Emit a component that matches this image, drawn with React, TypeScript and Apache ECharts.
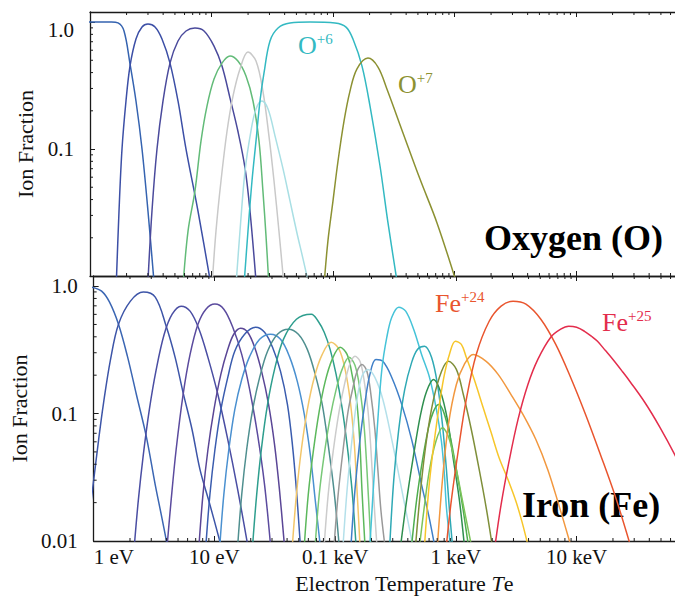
import React, { useEffect, useRef } from 'react';
import * as echarts from 'echarts';

const FONT = '"Liberation Serif", "Times New Roman", serif';
const X_MIN = 1;
const X_MAX = 65300;
const Y_MIN = 0.01;
const Y_MAX = 1.2;

const xTickLabels = ['1 eV', '10 eV', '0.1 keV', '1 keV', '10 keV'];
const yTickLabels = ['0.01', '0.1', '1.0'];
const xMinorTicks = [2,3,4,5,6,7,8,9,20,30,40,50,60,70,80,90,200,300,400,500,600,700,800,900,2000,3000,4000,5000,6000,7000,8000,9000,20000,30000,40000,50000,60000];
const yMinorTicks = [0.02,0.03,0.04,0.05,0.06,0.07,0.08,0.09,0.2,0.3,0.4,0.5,0.6,0.7,0.8,0.9];

// Oxygen ion fractions [Te (eV), fraction]
const O0 = [[0.91,1.0],[1.5,1.0],[1.70,0.985],[1.905,0.85],[2.13,0.475],[2.39,0.239],[2.68,0.1],[3.0,0.0325],[3.36,0.0091]];
const O1 = [[1.637,0.0076],[1.733,0.0325],[1.834,0.1],[1.978,0.239],[2.134,0.45],[2.39,0.735],[2.68,0.913],[3.0,0.964],[3.43,0.913],[3.913,0.735],[4.554,0.475],[5.30,0.239],[6.17,0.1],[7.74,0.0325],[10.1,0.0076]];
const O2 = [[3.0,0.0091],[3.237,0.0325],[3.56,0.1],[3.99,0.239],[4.554,0.475],[5.30,0.709],[6.17,0.85],[7.31,0.897],[8.68,0.85],[10.49,0.647],[12.2,0.45],[14.2,0.252],[16.5,0.138],[18.87,0.071],[20.74,0.0325],[23.25,0.0091]];
const O3 = [[5.83,0.0084],[6.41,0.0226],[7.31,0.0468],[8.20,0.116],[9.18,0.218],[10.49,0.356],[12.2,0.475],[14.2,0.54],[16.5,0.493],[19.23,0.376],[21.96,0.239],[24.6,0.116],[26.5,0.0468],[28.1,0.0206],[29.7,0.0084]];
const O4 = [[10.1,0.0084],[10.89,0.0226],[11.97,0.056],[13.42,0.138],[15.03,0.261],[17.16,0.427],[19.97,0.58],[23.25,0.493],[26.5,0.286],[29.7,0.127],[32.7,0.056],[35.9,0.0226],[39.5,0.0084]];
const O5 = [[15.9,0.0084],[17.16,0.0226],[18.87,0.067],[21.1,0.138],[23.25,0.207],[26.0,0.239],[29.2,0.207],[33.31,0.127],[38.8,0.0697],[44.27,0.039],[50.5,0.0218],[56.6,0.0137],[63.5,0.0084]];
const O6 = [[18.5,0.0084],[19.97,0.0226],[21.54,0.056],[23.25,0.116],[25.07,0.239],[27.05,0.397],[30.3,0.709],[35.3,0.897],[44.27,0.982],[64.7,1.0],[103.9,0.982],[128,0.913],[146,0.735],[173.3,0.45],[201.7,0.218],[243.8,0.0735],[283.6,0.0262],[336.3,0.0091]];
const O7 = [[84.3,0.0084],[90.9,0.019],[100,0.039],[110,0.0805],[123.2,0.166],[138,0.286],[157.6,0.427],[194.1,0.52],[234.6,0.442],[278.3,0.296],[376.8,0.134],[520,0.058],[717.8,0.0262],[1029,0.0091]];

const oxygenCurves = [O0, O1, O2, O3, O4, O5, O6, O7];
const oxygenColors = ['#3563b0', '#3c4fa6', '#4a4a9c', '#62bb78', '#c9c9c9', '#a9dfe4', '#33b9c2', '#8c9132'];

// Iron ion fractions [Te (eV), fraction]
const Fe0 = [[0.963,0.982],[1.164,0.913],[1.354,0.748],[1.606,0.502],[1.905,0.281],[2.259,0.141],[2.731,0.066],[3.237,0.0276],[3.63,0.0161],[4.143,0.0085]];
const Fe1 = [[0.95,0.02],[1.1,0.0625],[1.209,0.122],[1.38,0.266],[1.606,0.502],[2.017,0.762],[2.579,0.897],[3.237,0.819],[3.99,0.484],[4.73,0.276],[5.505,0.146],[6.53,0.075],[7.60,0.0363],[9.18,0.0193],[11.31,0.0093]];
const Fe2 = [[2.175,0.0093],[2.346,0.021],[2.579,0.0476],[2.89,0.107],[3.30,0.222],[3.84,0.419],[4.47,0.602],[5.30,0.696],[6.29,0.636],[7.46,0.459],[8.84,0.276],[10.69,0.141],[12.91,0.0625],[15.61,0.0252],[18.87,0.0093]];
const Fe3 = [[4.065,0.0093],[4.385,0.021],[4.82,0.052],[5.505,0.141],[6.29,0.291],[7.31,0.502],[8.51,0.659],[10.1,0.722],[11.97,0.659],[14.2,0.475],[16.84,0.291],[19.6,0.154],[22.8,0.0684],[26.04,0.0276],[29.17,0.0093]];
const Fe4 = [[7.46,0.0093],[8.04,0.0231],[8.84,0.052],[9.91,0.107],[11.31,0.203],[12.91,0.319],[14.47,0.419],[16.5,0.467],[18.87,0.434],[21.54,0.331],[24.6,0.214],[28.1,0.118],[31.5,0.0571],[34.6,0.0252],[38.0,0.0093]];
const Fe5 = [[8.51,0.0093],[9.18,0.0231],[10.1,0.052],[11.31,0.107],[12.91,0.192],[14.74,0.308],[17.8,0.419],[21.96,0.475],[26.04,0.434],[30.3,0.331],[35.3,0.214],[40.26,0.118],[44.27,0.0571],[47.8,0.0252],[51.5,0.0093]];
const Fe6 = [[11.1,0.0093],[11.97,0.0231],[13.16,0.052],[14.74,0.107],[16.84,0.185],[19.6,0.281],[23.7,0.382],[29.17,0.419],[35.3,0.382],[41.8,0.281],[48.66,0.178],[55.6,0.098],[62.3,0.0476],[68.4,0.021],[75.2,0.0093]];
const Fe7 = [[15.61,0.0093],[16.84,0.0231],[18.5,0.052],[20.74,0.107],[23.7,0.192],[27.56,0.308],[33.31,0.419],[41.0,0.459],[49.6,0.419],[58.82,0.319],[68.4,0.203],[78.2,0.118],[87.6,0.0571],[98.1,0.0244],[107.9,0.0093]];
const Fe8 = [[20.74,0.0093],[22.4,0.0231],[24.6,0.0543],[27.56,0.118],[31.5,0.222],[37.3,0.382],[47.8,0.55],[63.5,0.602],[72.4,0.53],[81.2,0.434],[90.9,0.319],[101.9,0.203],[114.2,0.111],[125.6,0.0571],[138,0.0252],[148.9,0.0093]];
const Fe9 = [[44.27,0.0093],[47.8,0.0231],[52.5,0.052],[58.82,0.107],[67.2,0.192],[78.2,0.291],[92.7,0.362],[107.9,0.319],[120.9,0.222],[132.9,0.129],[143.3,0.0625],[151.8,0.0252],[160.6,0.0093]];
const Fe10 = [[55.6,0.0093],[59.9,0.0231],[65.9,0.0502],[73.8,0.104],[82.7,0.178],[94.5,0.266],[110,0.331],[125.6,0.291],[138,0.203],[151.8,0.118],[160.6,0.0571],[166.8,0.0252],[176.6,0.0093]];
const Fe11 = [[68.4,0.0093],[73.8,0.0231],[81.2,0.0476],[90.9,0.093],[101.9,0.154],[114.2,0.222],[130.4,0.276],[146,0.239],[160.6,0.154],[173.3,0.082],[183.4,0.0363],[197.9,0.0093]];
const Fe12 = [[81.2,0.0093],[87.6,0.0231],[96.3,0.0502],[107.9,0.104],[120.9,0.178],[132.9,0.247],[146,0.281],[160.6,0.257],[173.3,0.185],[186.9,0.107],[197.9,0.052],[209.4,0.021],[221.7,0.0093]];
const Fe13 = [[98.1,0.0093],[105.9,0.0231],[116.4,0.052],[128,0.104],[140.6,0.16],[151.8,0.214],[166.8,0.243],[183.4,0.214],[197.9,0.141],[213.4,0.075],[225.9,0.0363],[239.2,0.0176],[257.9,0.0093]];
const Fe14 = [[135.4,0.0093],[146,0.0252],[160.6,0.0625],[176.6,0.122],[194.1,0.203],[217.5,0.266],[248.5,0.257],[294.6,0.192],[356.1,0.118],[430.4,0.0625],[520,0.0276],[593.8,0.0161],[665.3,0.0093]];
const Fe15 = [[116.4,0.0093],[125.6,0.0252],[138,0.0625],[151.8,0.129],[166.8,0.196],[186.9,0.222],[213.4,0.192],[248.5,0.129],[294.6,0.0625],[342.8,0.0304],[391.5,0.0161],[438.5,0.0093]];
const Fe16 = [[194.1,0.0093],[209.4,0.0302],[225.9,0.0896],[243.8,0.222],[268,0.397],[294.6,0.57],[336.3,0.683],[384.1,0.636],[446.9,0.459],[520,0.291],[605.2,0.192],[691,0.107],[759.8,0.0602],[804.1,0.033],[835.3,0.0183],[900.9,0.0093]];
const Fe17 = [[283.6,0.0093],[305.9,0.0302],[336.3,0.0747],[376.8,0.154],[430.4,0.252],[482.2,0.319],[550.6,0.337],[628.6,0.276],[704.2,0.169],[774.3,0.082],[835.3,0.0363],[884.1,0.0176],[935.9,0.0093]];
const Fe18 = [[349.3,0.0093],[391.5,0.021],[446.9,0.0476],[510.3,0.0984],[571.8,0.149],[652.8,0.185],[745.5,0.149],[851.1,0.0896],[953.7,0.0435],[1069,0.021],[1175,0.0093]];
const Fe19 = [[430.4,0.0093],[473.2,0.021],[530.2,0.0435],[593.8,0.0775],[652.8,0.104],[717.8,0.118],[789,0.104],[900.9,0.0648],[1009.5,0.0363],[1131,0.0193],[1267,0.0093]];
const Fe20 = [[501,0.0093],[550.6,0.0193],[605.2,0.0363],[678.2,0.0591],[774.3,0.0775],[867.7,0.066],[990.6,0.0398],[1131,0.021],[1342,0.0093]];
const Fe21 = [[464.2,0.0093],[510.3,0.0252],[571.8,0.0625],[652.8,0.129],[759.8,0.214],[867.7,0.257],[1009.5,0.222],[1153,0.141],[1342,0.075],[1561,0.0363],[1782,0.0183],[1997,0.0093]];
const Fe22 = [[550.6,0.0093],[593.8,0.0244],[640.6,0.0476],[691,0.082],[745.5,0.134],[804.1,0.203],[884.1,0.291],[990.6,0.369],[1110,0.349],[1220,0.276],[1420,0.185],[1684,0.111],[1960,0.0709],[2280,0.045],[2705,0.0302],[3148,0.0204],[3526,0.0142],[3951,0.0093]];
const Fe23 = [[704.2,0.0093],[774.3,0.0302],[867.7,0.082],[1009.5,0.169],[1175,0.243],[1393,0.291],[1782,0.257],[2238,0.203],[2863,0.141],[3594,0.0984],[4598,0.0625],[5772,0.0363],[7110,0.0193],[8925,0.0093]];
const Fe24 = [[835.3,0.0093],[918.4,0.021],[1049,0.052],[1220,0.129],[1475,0.291],[1887,0.53],[2369,0.696],[2974,0.762],[3804,0.722],[5055,0.55],[6717,0.349],[8925,0.192],[11860,0.0984],[15760,0.0476],[20940,0.0223],[27830,0.0093]];
const Fe25 = [[2114,0.0093],[2369,0.0193],[2756,0.0421],[3269,0.0896],[3951,0.169],[4775,0.266],[6109,0.397],[7384,0.459],[8597,0.484],[10000,0.475],[11630,0.442],[13290,0.404],[14890,0.369],[17330,0.312],[20160,0.263],[23910,0.214],[27830,0.177],[36990,0.121],[49130,0.0776],[65300,0.0472],[86760,0.0272]];

const ironCurves = [Fe0, Fe1, Fe2, Fe3, Fe4, Fe5, Fe6, Fe7, Fe8, Fe9, Fe10, Fe11, Fe12, Fe13, Fe14, Fe15, Fe16, Fe17, Fe18, Fe19, Fe20, Fe21, Fe22, Fe23, Fe24, Fe25];
const ironColors = ['#3b66b3','#3d55a8','#4a4ea3','#5b4b9e','#5a4696','#3a5cae','#4a90d0','#4f8f8f','#2e9e8e','#f2c66a','#5cb85c','#78c878','#cccccc','#999999','#3f7fc8','#b4e0ea','#45c3d8','#2fa9b5','#2f8f4f','#4fae4f','#7cc45a','#7f8f3a','#f7c62a','#f2983f','#e9552e','#e32d4c'];

const decadeIndex = (v: number) => {
  const e = Math.log10(v);
  const r = Math.round(e);
  return Math.abs(e - r) < 0.01 ? r : null;
};

const AX = '#1a1a1a';

function makeXAxis(gridIndex: number, position: 'top' | 'bottom', labels: boolean) {
  return {
    type: 'log', logBase: 10, gridIndex, position, min: X_MIN, max: X_MAX,
    axisLine: { show: true, onZero: false, lineStyle: { color: AX, width: 1.3 } },
    axisTick: { show: true, inside: true, length: 5, lineStyle: { color: AX, width: 1 } },
    splitLine: { show: false },
    axisLabel: labels ? {
      show: true, color: '#111', fontFamily: FONT, fontSize: 21, margin: 5,
      showMaxLabel: false, alignMinLabel: 'left',
      formatter: (v: number) => { const d = decadeIndex(v); return d === null ? '' : (xTickLabels[d] ?? ''); },
    } : { show: false },
    name: labels ? '{n|Electron Temperature }{i|T}{n|e}' : '',
    nameLocation: 'middle', nameGap: 31,
    nameTextStyle: labels ? {
      padding: [0, 0, 0, 40],
      rich: { n: { fontFamily: FONT, fontSize: 22, color: '#111' }, i: { fontFamily: FONT, fontSize: 22, fontStyle: 'italic', color: '#111' } },
    } : undefined,
  };
}

function makeYAxis(gridIndex: number, top: boolean) {
  return {
    type: 'log', logBase: 10, gridIndex, min: Y_MIN, max: Y_MAX,
    axisLine: { show: true, onZero: false, lineStyle: { color: AX, width: 1.3 } },
    axisTick: { show: true, inside: true, length: 5, lineStyle: { color: AX, width: 1 } },
    splitLine: { show: false },
    axisLabel: {
      show: true, color: '#111', fontFamily: FONT, fontSize: 21, margin: 16,
      showMaxLabel: false, showMinLabel: !top,
      formatter: (v: number) => {
        const d = decadeIndex(v);
        if (d === null) return '';
        const s = yTickLabels[d + 2] ?? '';
        return top && d === 0 ? '{t|' + s + '}' : s;
      },
      rich: { t: { fontFamily: FONT, fontSize: 21, color: '#111', padding: [16, 0, 0, 0] } },
    },
    name: 'Ion Fraction', nameLocation: 'middle', nameRotate: 90, nameGap: 52,
    nameTextStyle: { fontFamily: FONT, fontSize: 22, color: '#111' },
  };
}

function minorSeries(xAxisIndex: number, yAxisIndex: number) {
  const tickStyle = { stroke: AX, lineWidth: 1 };
  return [
    {
      type: 'custom', xAxisIndex, yAxisIndex, clip: false, silent: true, z: 10,
      data: xMinorTicks.map((v) => [v, Y_MIN]),
      renderItem: (_p: any, api: any) => {
        const v = api.value(0);
        const b = api.coord([v, Y_MIN]);
        const t = api.coord([v, Y_MAX]);
        return {
          type: 'group', children: [
            { type: 'line', shape: { x1: b[0], y1: b[1], x2: b[0], y2: b[1] - 3 }, style: tickStyle },
            { type: 'line', shape: { x1: t[0], y1: t[1], x2: t[0], y2: t[1] + 3 }, style: tickStyle },
          ],
        };
      },
    },
    {
      type: 'custom', xAxisIndex, yAxisIndex, clip: false, silent: true, z: 10,
      data: yMinorTicks.map((v) => [X_MIN, v]),
      renderItem: (_p: any, api: any) => {
        const p = api.coord([X_MIN, api.value(1)]);
        return { type: 'line', shape: { x1: p[0], y1: p[1], x2: p[0] + 3, y2: p[1] }, style: tickStyle };
      },
    },
  ];
}

function curveSeries(curves: number[][][], colors: string[], xAxisIndex: number, yAxisIndex: number) {
  return curves.map((data, i) => ({
    type: 'line', xAxisIndex, yAxisIndex, data, showSymbol: false, symbol: 'none',
    smooth: 0.35, clip: true, silent: true,
    lineStyle: { color: colors[i], width: 1.5 },
  }));
}

function ionLabel(x: number, y: number, base: string, sup: string, color: string) {
  return {
    type: 'text', x, y,
    style: {
      text: '{b|' + base + '}{s|' + sup + '}',
      verticalAlign: 'middle',
      rich: {
        b: { fontFamily: FONT, fontSize: 26, fill: color, color, lineHeight: 28 },
        s: { fontFamily: FONT, fontSize: 15, fill: color, color, lineHeight: 16, verticalAlign: 'top' },
      },
    },
  };
}

export default function App() {
  const ref = useRef<HTMLDivElement>(null);
  useEffect(() => {
    if (!ref.current) return;
    const chart = echarts.init(ref.current, undefined, { renderer: 'svg' });
    chart.setOption({
      animation: false,
      backgroundColor: '#ffffff',
      grid: [
        { left: 90, top: 12, width: 585, height: 264 },
        { left: 90, top: 276, width: 585, height: 265 },
      ],
      xAxis: [
        makeXAxis(0, 'bottom', false),
        makeXAxis(0, 'top', false),
        makeXAxis(1, 'bottom', true),
        makeXAxis(1, 'top', false),
      ],
      yAxis: [makeYAxis(0, true), makeYAxis(1, false)],
      series: [
        ...curveSeries(oxygenCurves, oxygenColors, 0, 0),
        ...curveSeries(ironCurves, ironColors, 2, 1),
        ...minorSeries(0, 0),
        ...minorSeries(2, 1),
      ],
      graphic: [
        { type: 'text', x: 484, y: 238, style: { text: 'Oxygen (O)', fontFamily: FONT, fontSize: 36, fontWeight: 'bold', fill: '#000', verticalAlign: 'middle' } },
        { type: 'text', x: 522, y: 505, style: { text: 'Iron (Fe)', fontFamily: FONT, fontSize: 36, fontWeight: 'bold', fill: '#000', verticalAlign: 'middle' } },
        ionLabel(298, 45, 'O', '+6', '#33b9c2'),
        ionLabel(398, 84, 'O', '+7', '#8c9132'),
        ionLabel(435, 303, 'Fe', '+24', '#e9552e'),
        ionLabel(602, 322, 'Fe', '+25', '#e32d4c'),
      ],
    });
    return () => chart.dispose();
  }, []);
  return <div ref={ref} style={{ position: 'absolute', left: 0, top: 0, width: 675, height: 606, background: '#fff' }} />;
}
